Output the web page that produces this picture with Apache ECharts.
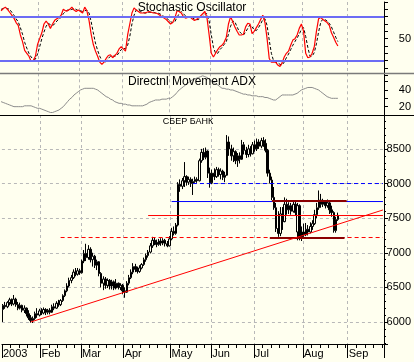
<!DOCTYPE html>
<html><head><meta charset="utf-8">
<script src="https://cdn.jsdelivr.net/npm/echarts@6/dist/echarts.min.js"></script>
<style>html,body{margin:0;padding:0;background:#ffffef;}#c{width:414px;height:362px;}</style>
</head><body><div id="c"></div>
<script>
// ---- calendar (trading days) ----
const holidays = ['2003-02-24','2003-03-10','2003-05-01','2003-05-02','2003-05-09','2003-06-12'];
const firstDay = '2003-01-08';
const lastDay = '2003-09-23';
const monthNames = ['2003','Feb','Mar','Apr','May','Jun','Jul','Aug','Sep'];

// ---- price (candles) ----
const opens = [6180,6240,6220,6280,6320,6260,6330,6250,6200,6240,
6170,6200,6120,6060,6020,6050,6120,6100,6160,6130,
6180,6140,6170,6140,6220,6200,6270,6250,6310,6380,
6450,6520,6600,6640,6720,6690,6740,6710,6880,6990,
6930,7050,6900,6950,6820,6870,6700,6560,6620,6530,
6600,6520,6580,6490,6560,6500,6530,6450,6430,6560,
6640,6720,6800,6760,6730,6780,6830,6900,6960,7010,
7100,7180,7150,7120,7170,7140,7180,7130,7100,7200,
7310,7280,7400,7990,7960,8040,8100,8020,8060,8000,
8030,8060,8040,8330,8450,8380,8470,8150,8010,8150,
8100,8200,8130,8180,8090,8120,8600,8500,8400,8460,
8330,8400,8350,8560,8480,8420,8500,8430,8560,8500,
8600,8540,8620,8580,8480,8150,8050,7800,7650,7350,
7280,7560,7450,7700,7620,7680,7600,7700,7300,7680,
7230,7300,7260,7340,7300,7380,7420,7550,7650,7760,
7700,7740,7680,7720,7620,7580,7320,7480];
const closes = [6240,6220,6280,6320,6260,6330,6250,6200,6240,6170,
6200,6120,6060,6020,6050,6120,6100,6160,6130,6180,
6140,6170,6140,6220,6200,6270,6250,6310,6380,6450,
6520,6600,6640,6720,6690,6740,6710,6880,6990,6930,
7050,6900,6950,6820,6870,6700,6560,6620,6530,6600,
6520,6580,6490,6560,6500,6530,6450,6430,6560,6640,
6720,6800,6760,6730,6780,6830,6900,6960,7010,7100,
7180,7150,7120,7170,7140,7180,7130,7100,7200,7310,
7280,7400,7990,7960,8040,8100,8020,8060,8000,8030,
8060,8040,8330,8450,8380,8470,8150,8010,8150,8100,
8200,8130,8180,8090,8120,8600,8500,8400,8460,8330,
8400,8350,8560,8480,8420,8500,8430,8560,8500,8600,
8540,8620,8580,8480,8150,8050,7800,7650,7350,7280,
7560,7450,7700,7620,7680,7600,7700,7580,7680,7230,
7300,7260,7340,7300,7380,7420,7550,7650,7760,7700,
7740,7680,7720,7620,7580,7320,7480,7540];
const lows = [6000,6190,6200,6240,6230,6240,6220,6170,6180,6140,
6130,6080,6030,5990,5985,6030,6060,6080,6100,6110,
6100,6110,6110,6130,6170,6190,6220,6230,6290,6360,
6430,6500,6560,6620,6660,6670,6680,6700,6850,6880,
6900,6860,6800,6780,6750,6660,6500,6460,6480,6490,
6470,6470,6460,6470,6470,6460,6400,6350,6420,6530,
6620,6690,6720,6700,6710,6760,6810,6870,6930,6990,
7070,7110,7080,7100,7100,7110,7090,7080,7090,7180,
7250,7260,7380,7880,7920,7950,7970,7980,7950,7835,
8010,8010,8030,8300,8340,8350,8080,7940,7990,8050,
8080,8100,8060,8050,8020,8110,8400,8330,8310,8280,
8240,8290,8340,8420,8370,8380,8390,8420,8460,8470,
8500,8510,8530,8450,8100,8000,7760,7620,7300,7230,
7240,7330,7440,7550,7560,7550,7580,7540,7180,7180,
7170,7230,7240,7250,7280,7330,7400,7500,7620,7650,
7660,7640,7650,7560,7520,7290,7290,7460];
const highs = [6260,6290,6300,6350,6340,6390,6350,6290,6280,6250,
6240,6210,6170,6100,6080,6150,6200,6190,6200,6210,
6200,6190,6200,6250,6270,6300,6320,6330,6400,6470,
6560,6640,6680,6760,6780,6780,6770,6900,7040,7130,
7110,7080,7000,6970,6900,6880,6720,6660,6650,6630,
6620,6610,6600,6620,6570,6560,6550,6500,6590,6680,
6760,6850,6840,6800,6820,6850,6930,6990,7040,7140,
7230,7220,7190,7200,7210,7210,7200,7170,7240,7360,
7380,7430,8020,8060,8080,8310,8120,8100,8090,8070,
8100,8090,8360,8500,8510,8520,8480,8230,8200,8220,
8240,8230,8220,8200,8170,8700,8680,8560,8520,8480,
8440,8450,8630,8600,8530,8560,8540,8600,8620,8650,
8640,8660,8670,8640,8500,8200,8100,7950,7720,7600,
7660,7660,7800,7780,7730,7720,7760,7740,7720,7700,
7380,7420,7430,7400,7440,7470,7620,7720,7900,7850,
7780,7760,7770,7740,7680,7600,7520,7580];

// ---- stochastic oscillator ----
const stochK = [88,91,93,90,86,82,78,72,68,55,
46,34,30,26,19,20,26,42,50,58,
70,74,70,64,70,75,77,79,82,90,
88,88,90,93,89,87,89,87,85,93,
88,75,56,42,33,26,18,15,18,23,
27,28,24,27,30,36,39,36,33,55,
70,85,92,89,87,85,85,85,86,87,
86,85,85,84,82,80,78,76,73,70,
72,78,88,87,85,80,78,79,80,77,
75,76,78,81,84,87,78,55,30,25,
30,35,39,41,45,52,70,80,73,66,
60,55,55,56,66,71,70,57,60,65,
70,76,82,72,50,23,18,18,18,14,
12,17,25,30,33,41,48,50,55,64,
70,60,30,24,25,30,39,60,77,79,
76,74,72,68,58,52,45,40];
const stochD = [90,91,91,91,90,86,82,77,73,65,
56,45,37,30,25,22,22,29,39,50,
59,67,71,69,68,70,74,77,79,84,
87,89,89,90,91,90,88,88,87,88,
89,85,73,58,44,34,26,20,17,19,
23,26,26,26,27,31,35,37,36,41,
53,70,82,89,89,87,86,85,85,86,
86,86,85,85,84,82,80,78,76,73,
72,73,79,84,87,84,81,79,79,79,
77,76,76,78,81,84,84,74,55,38,
30,30,35,38,42,46,56,67,74,73,
66,60,57,55,59,64,69,66,62,61,
65,70,76,77,68,48,30,20,18,17,
15,14,18,24,29,35,41,46,51,56,
63,65,53,38,26,26,31,43,59,72,
77,76,74,71,66,59,52,46];
const stochBands = [80, 20];
const stochTicks = [50];

// ---- ADX ----
const adx = [26,25,24,23,22,21,20,20,20,20,
20,21,21,21,21,20,19,18,18,17,
16,15,14,13,13,14,15,16,18,20,
23,26,29,31,34,36,38,40,41,42,
42,42,42,42,41,40,38,36,34,32,
31,29,28,26,25,24,24,23,23,22,
22,21,21,21,21,21,21,22,23,25,
26,27,28,28,28,29,29,29,30,30,
32,34,37,40,42,44,46,48,50,52,
53,54,55,56,57,56,55,53,51,49,
48,46,44,42,42,41,41,40,40,39,
38,37,36,35,35,34,34,33,33,33,
32,32,32,31,31,30,29,28,28,30,
32,34,34,34,34,34,34,35,36,38,
40,41,42,43,43,43,42,41,40,38,
36,34,32,31,30,30,30,30];
const adxTicks = [20, 40];

// ---- drawn study lines on the price panel ----
const levelValues = [8000, 7740, 7538, 7220, 7748, 7213];
const levelStarts = ['2003-05-20','2003-05-05','2003-04-16','2003-02-14','2003-07-11','2003-07-10'];
const levelEnds   = ['2003-09-23','2003-09-23','2003-09-23','2003-09-23','2003-08-29','2003-08-28'];
const trendStart = ['2003-01-27', 6000];
const trendEnd   = ['2003-09-23', 7618];

const priceMin = 5682, priceMax = 8990;

// ---- build ----
function buildDays(){
  const out=[]; const p=firstDay.split('-').map(Number); const q=lastDay.split('-').map(Number);
  let t=Date.UTC(p[0],p[1]-1,p[2]); const end=Date.UTC(q[0],q[1]-1,q[2]);
  while(t<=end){ const d=new Date(t); const wd=d.getUTCDay(); const s=d.toISOString().slice(0,10);
    if(wd!==0&&wd!==6&&holidays.indexOf(s)<0) out.push(s); t+=86400000; }
  return out;
}
const categories = buildDays();
const monthStart = categories.map((c,i)=> i===0 || c.slice(5,7)!==categories[i-1].slice(5,7));
const dayInMonth = []; categories.forEach((c,i)=>{ dayInMonth.push(monthStart[i] ? 0 : dayInMonth[i-1]+1); });
const minorTickDay = dayInMonth.map(d => d>0 && d%4===0);
const candles = opens.map((o,i)=>[o, closes[i], lows[i], highs[i]]);

const FONT = '"Liberation Sans", Arial, sans-serif';
const BG = '#ffffef';
const gridDash = {color:'#b8b8b8', type:[3,3], width:1};

const levelStyles = [
  {color:'#0000ff', type:[4,3], width:1},
  {color:'#0000ff', type:'solid', width:1},
  {color:'#ff0000', type:'solid', width:1},
  {color:'#ff0000', type:[4,3], width:1},
  {color:'#8b0000', type:'solid', width:2},
  {color:'#8b0000', type:'solid', width:2}
];
const levelSeries = levelValues.map((v,i)=>({
  type:'line', xAxisIndex:2, yAxisIndex:2, symbol:'none', showSymbol:false, silent:true, z:4,
  lineStyle: levelStyles[i],
  data:[[levelStarts[i], v],[levelEnds[i], v]]
}));
const trendSeries = {type:'line', xAxisIndex:2, yAxisIndex:2, symbol:'none', showSymbol:false, silent:true, z:4,
  lineStyle:{color:'#ff0000', width:1}, data:[trendStart, trendEnd]};

function xCat(gridIndex, extra){
  return Object.assign({
    type:'category', gridIndex, data:categories, boundaryGap:true,
    axisLine:{show:false}, axisTick:{show:false}, axisLabel:{show:false},
    splitLine:{show:true, interval:(i)=>monthStart[i] && i>0, lineStyle:gridDash}
  }, extra||{});
}
function yRight(gridIndex, extra){
  return Object.assign({
    type:'value', gridIndex, position:'right', scale:true,
    axisLine:{show:true, onZero:false, lineStyle:{color:'#000', width:1}},
    axisTick:{show:true, length:4, lineStyle:{color:'#000'}},
    splitLine:{show:false}
  }, extra||{});
}
const labelBase = {color:'#000', fontFamily:FONT, fontSize:11, align:'right', margin:27};

const option = {
  backgroundColor: BG,
  animation:false,
  textStyle:{fontFamily:FONT},
  grid:[
    {left:0, right:29, top:2, height:73.3},
    {left:0, right:29, top:73.3, height:41.7},
    {left:0, right:29, top:115, height:229}
  ],
  xAxis:[
    xCat(0),
    xCat(1),
    xCat(2, {
      axisLine:{show:true, lineStyle:{color:'#000', width:1}},
      axisTick:{show:true, length:4, interval:(i)=>minorTickDay[i], lineStyle:{color:'#000'}}
    }),
    xCat(2, {
      position:'bottom',
      splitLine:{show:false},
      axisTick:{show:true, length:14, interval:(i)=>monthStart[i], lineStyle:{color:'#000'}},
      axisLabel:{show:true, interval:(i)=>monthStart[i], align:'left', margin:4, color:'#000', fontSize:11, fontFamily:FONT,
        formatter:(v)=> monthNames[parseInt(v.slice(5,7),10)-1]}
    })
  ],
  yAxis:[
    yRight(0, {min:0, max:100, splitNumber:10,
      axisLabel:Object.assign({}, labelBase, {formatter:(v)=> stochTicks.indexOf(v)>=0 ? String(v) : ''})}),
    yRight(1, {min:10, max:60, splitNumber:5,
      axisLabel:Object.assign({}, labelBase, {formatter:(v)=> adxTicks.indexOf(v)>=0 ? String(v) : ''})}),
    yRight(2, {min:priceMin, max:priceMax, splitNumber:7,
      minorTick:{show:true, splitNumber:5, length:2, lineStyle:{color:'#000'}},
      splitLine:{show:true, lineStyle:gridDash},
      axisLabel:Object.assign({}, labelBase, {showMinLabel:false, showMaxLabel:false,
        formatter:(v)=> (v % 500 === 0) ? String(v) : ''})})
  ],
  series:[
    {type:'line', xAxisIndex:0, yAxisIndex:0, data:stochK, showSymbol:false, symbol:'none',
      lineStyle:{color:'#ff0000', width:1.2}, z:3,
      markLine:{silent:true, symbol:['none','none'], label:{show:false},
        lineStyle:{color:'#6c6cf4', width:2, type:'solid'},
        data: stochBands.map(v=>({yAxis:v}))}},
    {type:'line', xAxisIndex:0, yAxisIndex:0, data:stochD, showSymbol:false, symbol:'none',
      lineStyle:{color:'#000', width:1, type:[3,2]}, z:2},
    {type:'line', xAxisIndex:1, yAxisIndex:1, data:adx, showSymbol:false, symbol:'none',
      lineStyle:{color:'#8c8c8c', width:1}},
    {type:'candlestick', xAxisIndex:2, yAxisIndex:2, data:candles, barWidth:2, z:3,
      itemStyle:{color:BG, color0:'#000', borderColor:'#000', borderColor0:'#000', borderWidth:1}}
  ].concat(levelSeries, [trendSeries]),
  graphic:[
    {type:'line', z:100, shape:{x1:0,y1:73.5,x2:414,y2:73.5}, style:{stroke:'#7a7a7a', lineWidth:1.5}},
    {type:'line', z:100, shape:{x1:0,y1:115.5,x2:414,y2:115.5}, style:{stroke:'#000', lineWidth:1}},
    {type:'text', z:100, x:192, y:2, style:{text:'Stochastic Oscillator', font:'12px '+FONT, fill:'#000', align:'center', verticalAlign:'top'}},
    {type:'text', z:100, x:192, y:76, style:{text:'Directnl Movement ADX', font:'12px '+FONT, fill:'#000', align:'center', verticalAlign:'top'}},
    {type:'text', z:100, x:188, y:117, style:{text:'СБЕР БАНК', font:'9px '+FONT, fill:'#000', align:'center', verticalAlign:'top'}}
  ]
};
const chart = echarts.init(document.getElementById('c'), null, {renderer:'canvas'});
chart.setOption(option);
</script></body></html>
